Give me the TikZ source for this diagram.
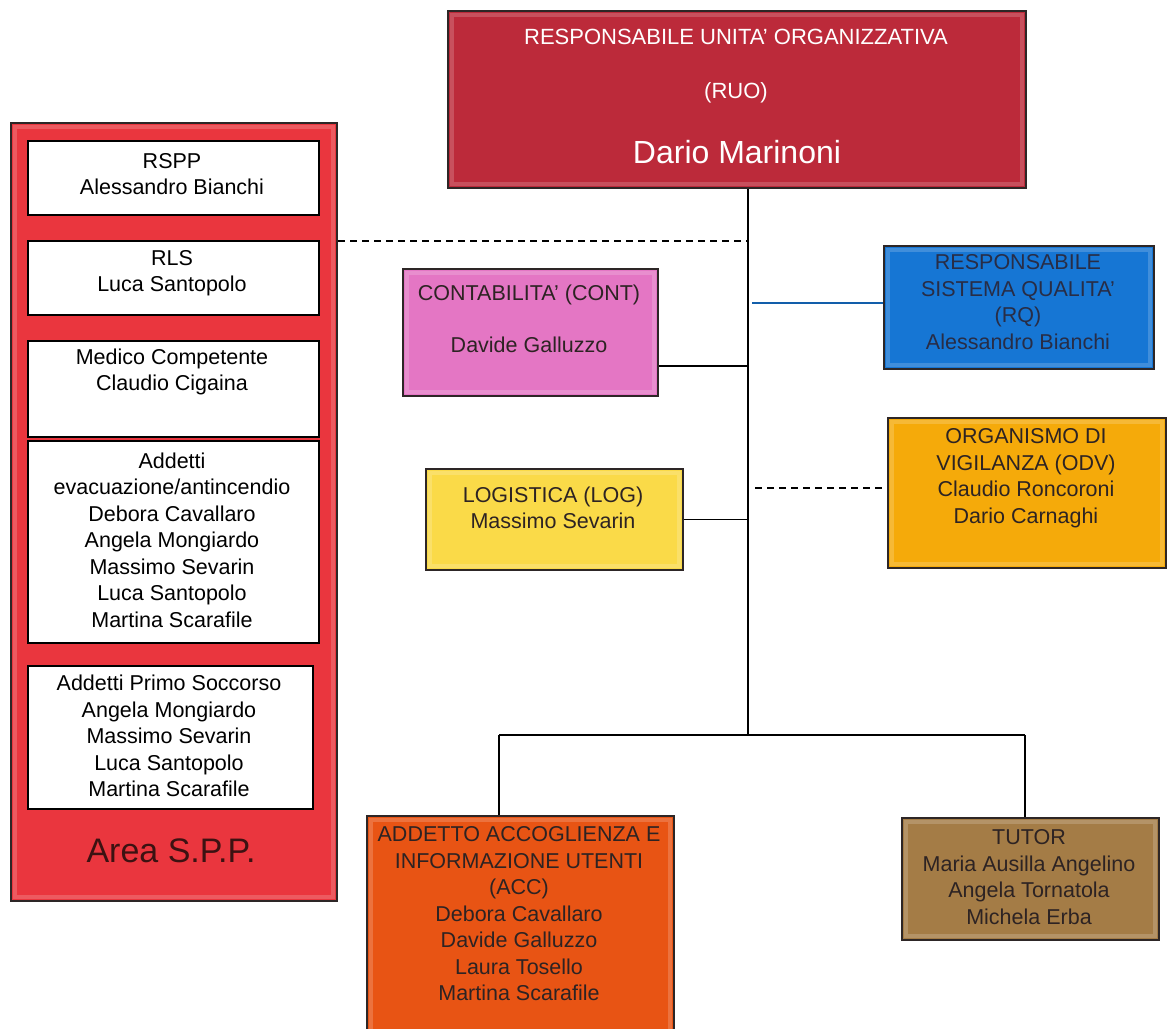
\documentclass[tikz,border=0pt]{standalone}
\usepackage{fontspec}
\setmainfont{Liberation Sans}
\definecolor{ruored}{RGB}{188,42,58}
\definecolor{panelred}{RGB}{234,54,62}
\definecolor{contpink}{RGB}{228,118,196}
\definecolor{rqblue}{RGB}{22,118,212}
\definecolor{odvorange}{RGB}{245,170,10}
\definecolor{logyellow}{RGB}{250,218,72}
\definecolor{accorange}{RGB}{232,84,20}
\definecolor{tutorbrown}{RGB}{164,124,70}
\definecolor{edge}{RGB}{45,38,38}
\definecolor{darktxt}{RGB}{45,35,35}
\definecolor{areatxt}{RGB}{60,18,18}
\tikzset{
  box/.style={draw=edge, line width=2.2pt, anchor=north west, inner sep=0pt,
    path picture={\draw[white, opacity=0.18, line width=4pt]
      ([shift={(4,4)}]path picture bounding box.north west) rectangle
      ([shift={(-4,-4)}]path picture bounding box.south east);}},
  whitebox/.style={draw=black, line width=1.8pt, fill=white, anchor=north west, inner sep=0pt},
  txt/.style={align=center, inner sep=0pt, text=darktxt, font=\fontsize{21.5}{26.5}\selectfont},
  wtxt/.style={align=center, inner sep=0pt, text=black, font=\fontsize{21.5}{26.5}\selectfont},
  conn/.style={draw=black, line width=1.2pt},
  dconn/.style={draw=black, line width=1.4pt, dashed, dash pattern=on 7pt off 5pt},
}
\begin{document}
\begin{tikzpicture}[x=1pt,y=-1pt]
\clip (0,0) rectangle (1167,1028);
\fill[white] (0,0) rectangle (1167,1028);

% coordinates of the trunk
\coordinate (tb) at (748,735);
\coordinate (j1) at (748,241);
\coordinate (j2) at (748,366);
\coordinate (j3) at (752,303);
\coordinate (j4) at (755,488);
\coordinate (b1) at (499,735);
\coordinate (b2) at (1025,735);

% top box
\node[box, fill=ruored, minimum width=578pt, minimum height=177pt] (ruo) at (447,10) {};
\node[txt, text=white, font=\fontsize{22}{26}\selectfont] (ruot1) at (736,37) {RESPONSABILE UNITA’ ORGANIZZATIVA};
\node[txt, text=white, font=\fontsize{22}{26}\selectfont] (ruot2) at (736,93) {(RUO)};
\node[txt, text=white, font=\fontsize{32}{36}\selectfont] (ruoname) at (737,152) {Dario Marinoni};

% left panel
\node[box, fill=panelred, minimum width=326pt, minimum height=778pt] (spp) at (10,122) {};
\node[whitebox, minimum width=291pt, minimum height=74pt] (rspp) at (27,140) {};
\node[wtxt] (rsppt) at (172,174) {RSPP\\Alessandro Bianchi};
\node[whitebox, minimum width=291pt, minimum height=74pt] (rls) at (27,240) {};
\node[wtxt] (rlst) at (172,273) {RLS\\Luca Santopolo};
\node[whitebox, minimum width=291pt, minimum height=96pt] (med) at (27,340) {};
\node[wtxt] (medt) at (172,372) {Medico Competente\\Claudio Cigaina};
\node[whitebox, minimum width=291pt, minimum height=202pt] (evac) at (27,440) {};
\node[wtxt] (evact) at (172,540) {Addetti\\evacuazione/antincendio\\Debora Cavallaro\\Angela Mongiardo\\Massimo Sevarin\\Luca Santopolo\\Martina Scarafile};
\node[whitebox, minimum width=285pt, minimum height=143pt] (ps) at (27,665) {};
\node[wtxt] (pst) at (169,736) {Addetti Primo Soccorso\\Angela Mongiardo\\Massimo Sevarin\\Luca Santopolo\\Martina Scarafile};
\node[txt, text=areatxt, font=\fontsize{34}{38}\selectfont] (area) at (171,851) {Area S.P.P.};

% middle boxes
\node[box, fill=contpink, minimum width=255pt, minimum height=127pt] (cont) at (402,268) {};
\node[txt] (contt) at (529,319) {CONTABILITA’ (CONT)\\[26pt]Davide Galluzzo};
\node[box, fill=logyellow, minimum width=257pt, minimum height=101pt] (log) at (425,468) {};
\node[txt] (logt) at (553,508) {LOGISTICA (LOG)\\Massimo Sevarin};

% right boxes
\node[box, fill=rqblue, minimum width=270pt, minimum height=123pt] (rq) at (883,245) {};
\node[txt, text={rgb,255:red,40;green,45;blue,70}] (rqt) at (1018,302) {RESPONSABILE\\SISTEMA QUALITA’\\(RQ)\\Alessandro Bianchi};
\node[box, fill=odvorange, minimum width=278pt, minimum height=150pt] (odv) at (887,417) {};
\node[txt] (odvt) at (1026,478) {ORGANISMO DI\\VIGILANZA (ODV)\\Claudio Roncoroni\\Dario Carnaghi};

% bottom boxes
\node[box, fill=accorange, minimum width=307pt, minimum height=225pt] (acc) at (366,815) {};
\node[txt] (acct) at (519,914) {ADDETTO ACCOGLIENZA E\\INFORMAZIONE UTENTI\\(ACC)\\Debora Cavallaro\\Davide Galluzzo\\Laura Tosello\\Martina Scarafile};
\node[box, fill=tutorbrown, minimum width=257pt, minimum height=122pt] (tutor) at (901,817) {};
\node[txt] (tutort) at (1029,877) {TUTOR\\Maria Ausilla Angelino\\Angela Tornatola\\Michela Erba};

% connectors
\draw[conn] (ruo.south -| tb) -- (tb);
\draw[dconn] (j1 -| spp.east) -- (j1);
\draw[conn] (cont.east |- j2) -- (j2);
\draw[draw=rqblue!80!black, line width=1.4pt] (j3) -- (j3 -| rq.west);
\draw[dconn, shorten >=5pt] (j4) -- (j4 -| odv.west);
\draw[conn] (log.east) -- (log.east -| tb);
\draw[conn] (b1) -- (b2);
\draw[conn] (b1) -- (b1 |- acc.north);
\draw[conn] (b2) -- (b2 |- tutor.north);
\end{tikzpicture}
\end{document}
